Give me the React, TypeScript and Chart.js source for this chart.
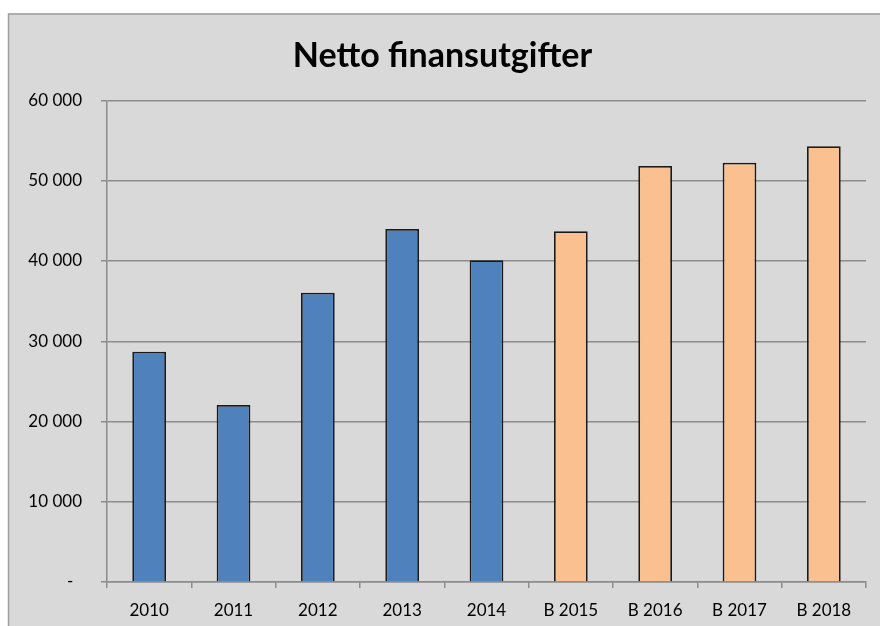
import React, { useEffect, useRef } from "react";
import { Chart, registerables } from "chart.js";

Chart.register(...registerables);

const categories = ["2010", "2011", "2012", "2013", "2014", "B 2015", "B 2016", "B 2017", "B 2018"];
const values = [28700, 22050, 36050, 44000, 40100, 43700, 51850, 52250, 54300];
const actualColor = "#4f81bd";
const budgetColor = "#fac090";
const titleText = "Netto finansutgifter";
const yMin = 0;
const yMax = 60000;
const yStep = 10000;

const FONT = "Lato, 'Open Sans', sans-serif";

const formatTick = (v: number) => {
  if (v === 0) return "-  ";
  return String(v).replace(/\B(?=(\d{3})+(?!\d))/g, " ");
};

const backgroundPlugin = {
  id: "bgFrame",
  beforeDraw(chart: any) {
    const { ctx, width, height } = chart;
    ctx.save();
    ctx.fillStyle = "#ffffff";
    ctx.fillRect(0, 0, width, height);
    ctx.fillStyle = "#d9d9d9";
    ctx.fillRect(8, 13, width, height);
    ctx.strokeStyle = "#a0a0a0";
    ctx.lineWidth = 1.5;
    ctx.beginPath();
    ctx.moveTo(8.5, height + 5);
    ctx.lineTo(8.5, 14);
    ctx.lineTo(width + 5, 14);
    ctx.stroke();
    ctx.restore();
  },
};

export default function App() {
  const ref = useRef<HTMLCanvasElement | null>(null);

  useEffect(() => {
    if (!ref.current) return;
    const chart = new Chart(ref.current, {
      type: "bar",
      data: {
        labels: categories,
        datasets: [
          {
            data: values,
            backgroundColor: categories.map((c) => (c.startsWith("B") ? budgetColor : actualColor)),
            borderColor: "#1a1a1a",
            borderWidth: 1.8,
            barPercentage: 0.4,
            categoryPercentage: 1,
          },
        ],
      },
      options: {
        responsive: false,
        animation: false,
        layout: { padding: { left: 19, right: 14, top: 20, bottom: 0 } },
        plugins: {
          legend: { display: false },
          tooltip: { enabled: false },
          title: {
            display: true,
            text: titleText,
            color: "#000000",
            font: { family: FONT, size: 34, weight: "bold", lineHeight: 1.2 },
            padding: { top: 15.5, bottom: 24.2 },
          },
        },
        scales: {
          x: {
            afterFit: (s: any) => {
              s.height = 44;
            },
            grid: {
              display: true,
              offset: true,
              drawOnChartArea: false,
              drawTicks: true,
              tickLength: 6,
              color: "#8c8c8c",
              lineWidth: 1.5,
            },
            border: { display: true, color: "#8c8c8c", width: 1.5 },
            ticks: {
              color: "#000000",
              font: { family: FONT, size: 17 },
              padding: 12,
              maxRotation: 0,
            },
          },
          y: {
            min: yMin,
            max: yMax,
            afterFit: (s: any) => {
              s.width = 88;
            },
            grid: {
              color: "#8c8c8c",
              lineWidth: 1.5,
              tickLength: 6,
              drawTicks: true,
            },
            border: { display: true, color: "#8c8c8c", width: 1.5 },
            ticks: {
              stepSize: yStep,
              color: "#000000",
              font: { family: FONT, size: 17 },
              padding: 19,
              callback: (v: any) => formatTick(Number(v)),
            },
          },
        },
      },
      plugins: [backgroundPlugin],
    });
    return () => chart.destroy();
  }, []);

  return (
    <div style={{ position: "absolute", left: 0, top: 0, width: 880, height: 626 }}>
      <canvas ref={ref} width={880} height={626} style={{ display: "block" }} />
    </div>
  );
}
